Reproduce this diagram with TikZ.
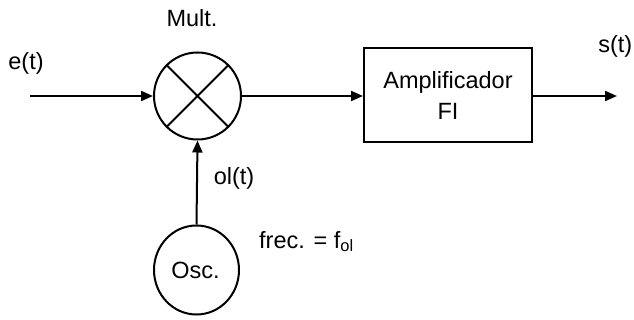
\documentclass[tikz,border=0pt]{standalone}
\usepackage{fontspec}
\setmainfont{Liberation Sans}
\usetikzlibrary{arrows.meta,shapes.geometric}
\begin{document}
\begin{tikzpicture}[x=1pt,y=-1pt,
  lw/.style={line width=2pt},
  arr/.style={lw,-{Triangle[length=12pt,width=10pt]}},
  lbl/.style={inner sep=0pt,anchor=base,font=\fontsize{23.5}{31}\selectfont},
  blk/.style={draw,lw,minimum width=168pt,minimum height=94pt,inner sep=0pt,align=center,font=\fontsize{23.5}{31}\selectfont}]
\useasboundingbox (0,0) rectangle (634,320);
\node[circle,draw,lw,minimum size=87pt,inner sep=0pt] (m) at (197.5,96) {};
\draw[lw] (m.45) -- (m.225) (m.135) -- (m.315);
\node[ellipse,draw,lw,minimum width=85pt,minimum height=89pt,inner sep=0pt] (osc) at (196.5,270) {};
\node[lbl] (osct) at (195.5,278) {Osc.};
\node[blk] (box) at (448,95) {Amplificador\\FI};
\coordinate (in) at (30,96);
\coordinate (out) at (617,96);
\draw[arr] (in) -- (m.west);
\draw[arr] (m.east) -- (m.east -| box.west);
\draw[arr] (box.east |- out) -- (out);
\draw[arr] (osc.north) -- (m.south);
\node[lbl] (et) at (26,70) {e(t)};
\node[lbl] (mult) at (192,27) {Mult.};
\node[lbl,anchor=base east] (st) at (632.5,53) {s(t)};
\node[lbl] (olt) at (234,185) {ol(t)};
\node[lbl,anchor=base west] (frec) at (259,248) {frec. = f\textsubscript{ol}};
\end{tikzpicture}
\end{document}
